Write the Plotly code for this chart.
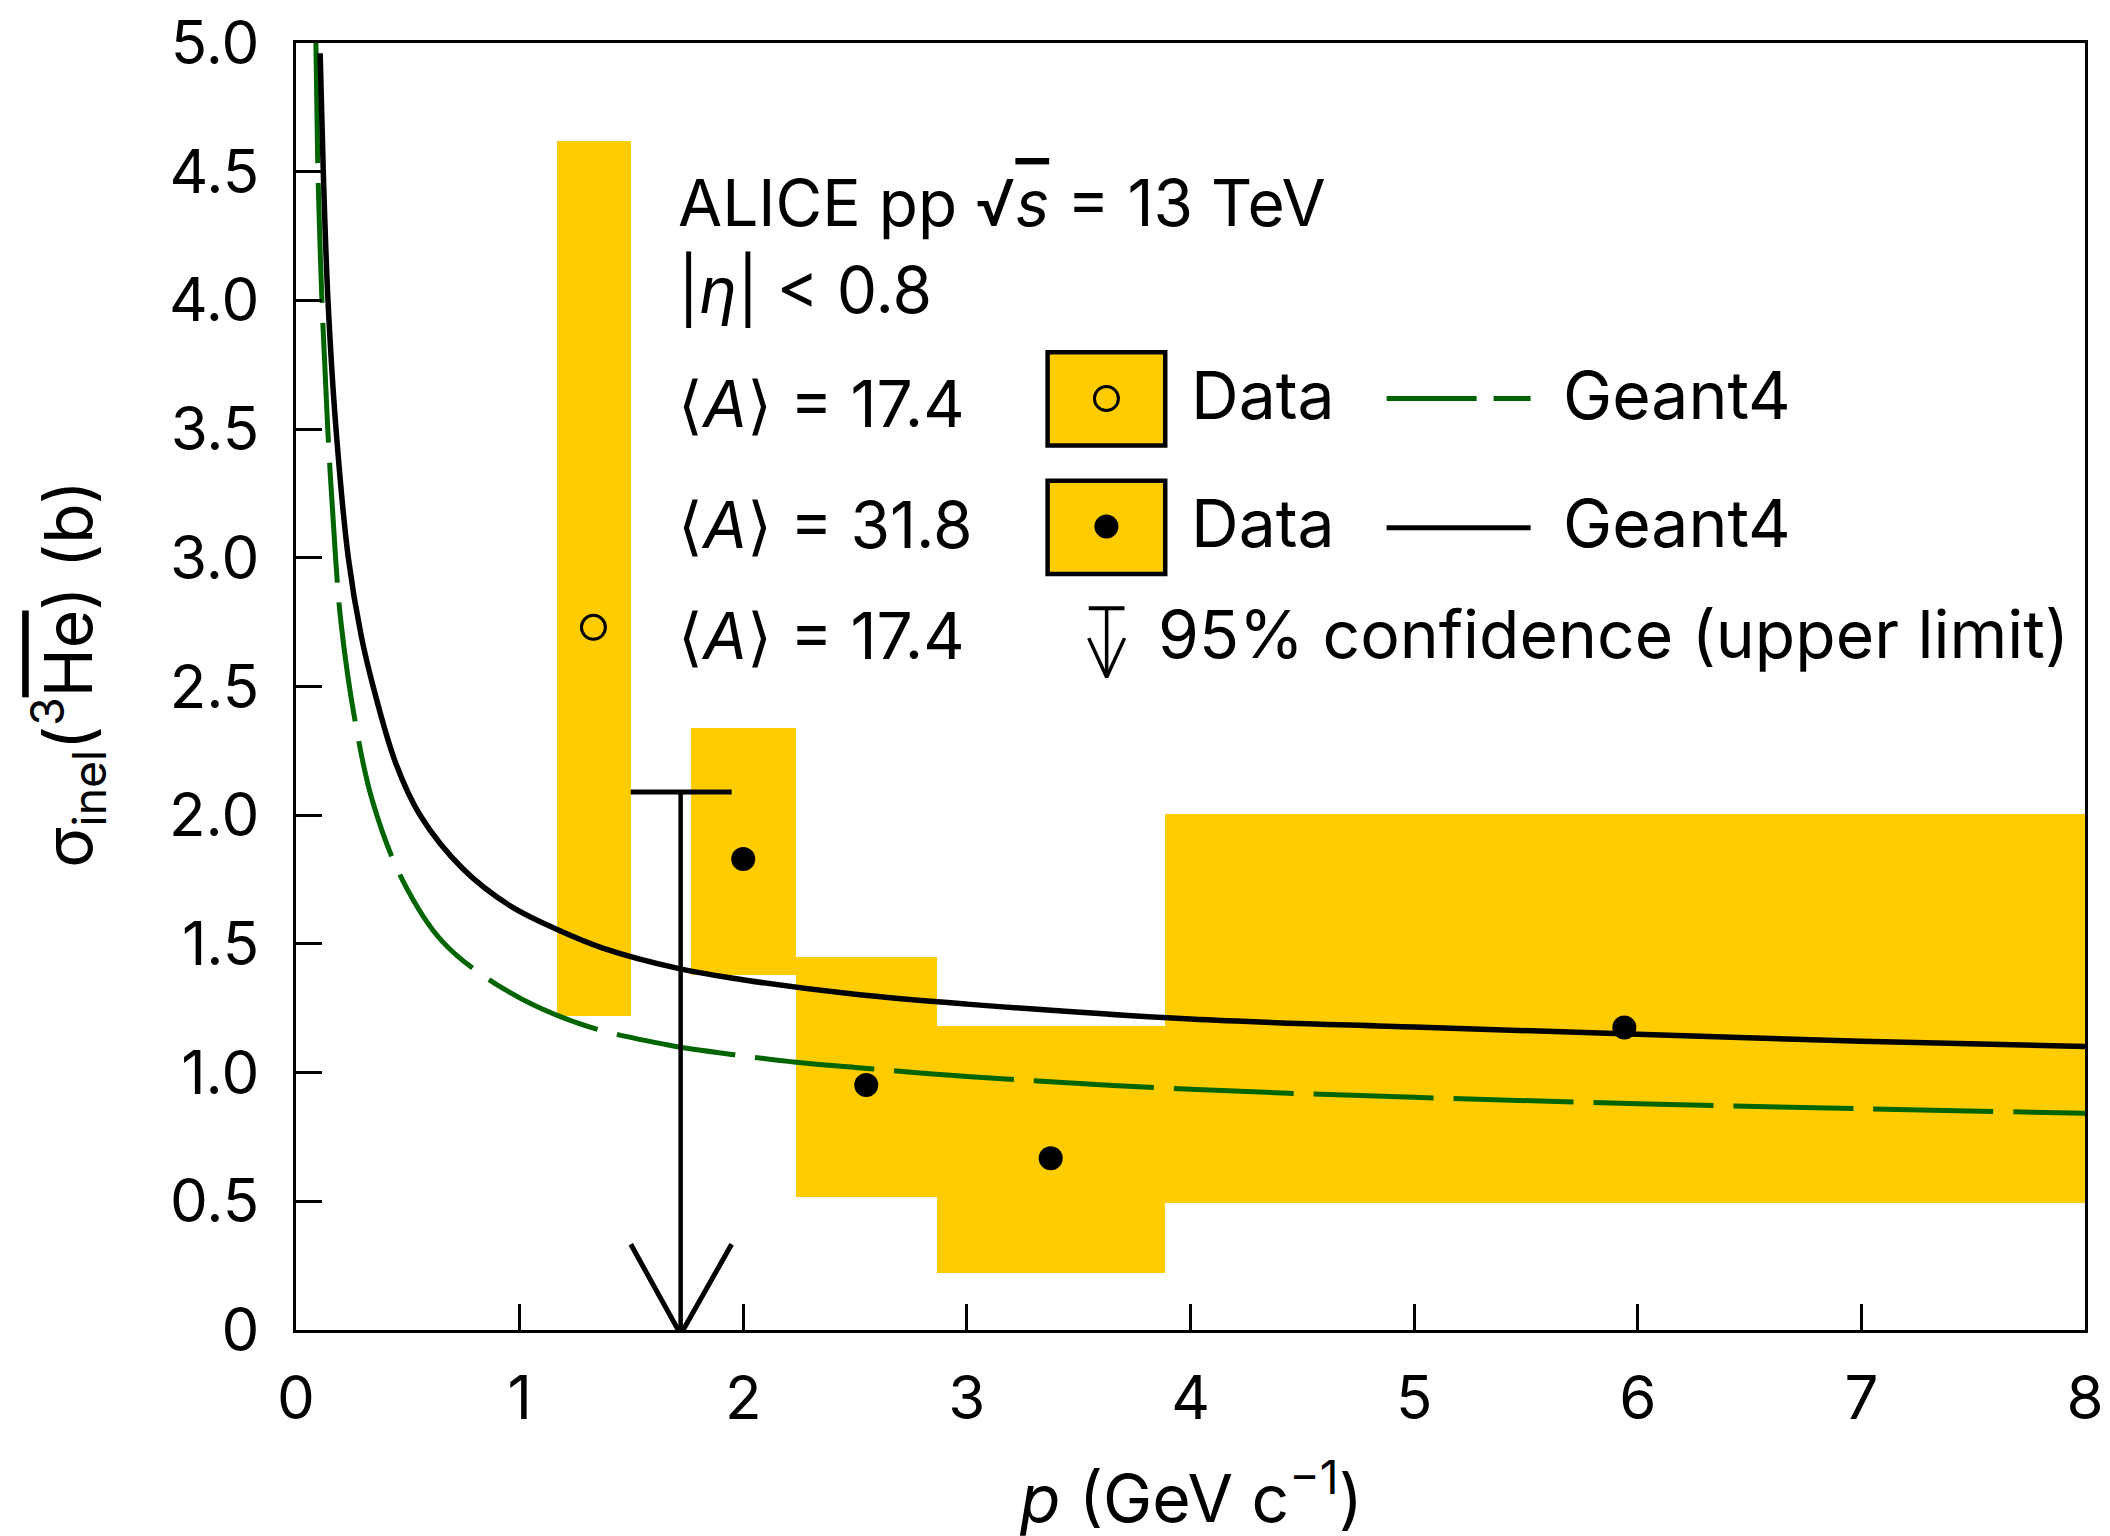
import plotly.graph_objects as go

# ---------------- data ----------------
# <A> = 17.4 measurement (open marker)
p_open = [1.33]
sigma_open = [2.73]
open_x_lo = [1.167]
open_x_hi = [1.497]
open_y_lo = [1.22]
open_y_hi = [4.62]

# <A> = 31.8 measurements (filled markers)
p_filled = [2.0, 2.55, 3.375, 5.94]
sigma_filled = [1.83, 0.952, 0.667, 1.175]
filled_x_lo = [1.765, 2.235, 2.868, 3.888]
filled_x_hi = [2.235, 2.868, 3.888, 8.0]
filled_y_lo = [1.38, 0.515, 0.22, 0.494]
filled_y_hi = [2.337, 1.45, 1.182, 2.004]

# <A> = 17.4 upper limit (95% CL)
ul_p = [1.72]
ul_sigma = [2.09]
ul_x_lo = [1.497]
ul_x_hi = [1.948]

# Geant4 curves
geant_174_p = [0.089, 0.098, 0.116, 0.142, 0.177, 0.201, 0.261, 0.343, 0.477, 0.656,
               0.939, 1.267, 1.670, 2.0, 2.236, 2.5, 3.0, 4.0, 5.0, 6.0, 7.0, 8.0]
geant_174_sigma = [5.0, 4.5, 4.0, 3.5, 3.0, 2.75, 2.382, 2.052, 1.747, 1.508,
                   1.320, 1.190, 1.106, 1.065, 1.040, 1.020, 0.985, 0.935, 0.904, 0.879, 0.860, 0.842]
geant_318_p = [0.108, 0.122, 0.143, 0.179, 0.234, 0.291, 0.345, 0.447, 0.555, 0.745,
               0.954, 1.163, 1.372, 1.714, 2.012, 2.5, 3.0, 4.0, 5.0, 6.0, 7.0, 8.0]
geant_318_sigma = [4.96, 4.5, 4.0, 3.5, 3.0, 2.70, 2.5, 2.2, 2.0, 1.793,
                   1.650, 1.558, 1.484, 1.404, 1.359, 1.304, 1.266, 1.208, 1.177, 1.149, 1.122, 1.101]

x_tick_vals = [0, 1, 2, 3, 4, 5, 6, 7, 8]
x_tick_text = ["0", "1", "2", "3", "4", "5", "6", "7", "8"]
y_tick_vals = [0, 0.5, 1.0, 1.5, 2.0, 2.5, 3.0, 3.5, 4.0, 4.5, 5.0]
y_tick_text = ["0", "0.5", "1.0", "1.5", "2.0", "2.5", "3.0", "3.5", "4.0", "4.5", "5.0"]

# ---------------- style ----------------
FONT = "Inter"
YELLOW = "#FFCC00"
GREEN = "#006400"
TICK_FS = 60
TEXT_FS = 64
LABEL_FS = 66

fig = go.Figure()

# uncertainty boxes
def add_boxes(xlo, xhi, ylo, yhi):
    fig.add_trace(go.Bar(
        x=[(a + b) / 2 for a, b in zip(xlo, xhi)],
        width=[b - a for a, b in zip(xlo, xhi)],
        base=ylo,
        y=[b - a for a, b in zip(ylo, yhi)],
        marker=dict(color=YELLOW, line=dict(width=0)),
        showlegend=False, hoverinfo="skip",
    ))

add_boxes(open_x_lo, open_x_hi, open_y_lo, open_y_hi)
add_boxes(filled_x_lo, filled_x_hi, filled_y_lo, filled_y_hi)

# Geant4 curves
fig.add_trace(go.Scatter(
    x=geant_174_p, y=geant_174_sigma, mode="lines",
    line=dict(color=GREEN, width=5, dash="120px,20px", shape="spline", smoothing=1.0),
    showlegend=False, hoverinfo="skip",
))
fig.add_trace(go.Scatter(
    x=geant_318_p, y=geant_318_sigma, mode="lines",
    line=dict(color="black", width=5.5, shape="spline", smoothing=1.0),
    showlegend=False, hoverinfo="skip",
))

# data points
fig.add_trace(go.Scatter(
    x=p_open, y=sigma_open, mode="markers",
    marker=dict(symbol="circle-open", size=24, color="black", line=dict(width=3)),
    showlegend=False,
))
fig.add_trace(go.Scatter(
    x=p_filled, y=sigma_filled, mode="markers",
    marker=dict(symbol="circle", size=24, color="black"),
    showlegend=False,
))

# upper limit arrow
ARROW_H = 0.35
for p, s, lo, hi in zip(ul_p, ul_sigma, ul_x_lo, ul_x_hi):
    fig.add_trace(go.Scatter(x=[lo, hi], y=[s, s], mode="lines",
                             line=dict(color="black", width=5),
                             showlegend=False, hoverinfo="skip", cliponaxis=False))
    fig.add_trace(go.Scatter(x=[p, p], y=[s, 0], mode="lines",
                             line=dict(color="black", width=4.5),
                             showlegend=False, hoverinfo="skip", cliponaxis=False))
    fig.add_trace(go.Scatter(x=[lo, p, hi], y=[ARROW_H - 0.017, -0.017, ARROW_H - 0.017],
                             mode="lines", line=dict(color="black", width=5),
                             showlegend=False, hoverinfo="skip", cliponaxis=False))

# ---------------- in-plot legend ----------------
shapes = []
for y0, y1 in [(3.436, 3.799), (2.937, 3.299)]:
    shapes.append(dict(type="rect", xref="x", yref="y", x0=3.361, x1=3.887, y0=y0, y1=y1,
                       fillcolor=YELLOW, line=dict(color="black", width=4.5), layer="below"))
fig.update_layout(shapes=shapes)

fig.add_trace(go.Scatter(x=[3.624], y=[3.619], mode="markers",
                         marker=dict(symbol="circle-open", size=24, color="black", line=dict(width=3)),
                         showlegend=False, hoverinfo="skip"))
fig.add_trace(go.Scatter(x=[3.624], y=[3.122], mode="markers",
                         marker=dict(symbol="circle", size=24, color="black"),
                         showlegend=False, hoverinfo="skip"))
fig.add_trace(go.Scatter(x=[4.877, 5.521], y=[3.619, 3.619], mode="lines",
                         line=dict(color=GREEN, width=5, dash="90px,17px"),
                         showlegend=False, hoverinfo="skip"))
fig.add_trace(go.Scatter(x=[4.877, 5.521], y=[3.117, 3.117], mode="lines",
                         line=dict(color="black", width=5),
                         showlegend=False, hoverinfo="skip"))
# legend upper-limit symbol
fig.add_trace(go.Scatter(x=[3.545, 3.705], y=[2.804, 2.804], mode="lines",
                         line=dict(color="black", width=4), showlegend=False, hoverinfo="skip"))
fig.add_trace(go.Scatter(x=[3.625, 3.625], y=[2.804, 2.536], mode="lines",
                         line=dict(color="black", width=3.5), showlegend=False, hoverinfo="skip"))
fig.add_trace(go.Scatter(x=[3.545, 3.625, 3.705], y=[2.688, 2.536, 2.688], mode="lines",
                         line=dict(color="black", width=3.5), showlegend=False, hoverinfo="skip"))

def txt(x, y, s, size=TEXT_FS):
    fig.add_annotation(x=x, y=y, xref="x", yref="y", text=s, showarrow=False,
                       xanchor="left", yanchor="middle",
                       font=dict(family=FONT, size=size, color="black"))

txt(1.70, 4.382, "ALICE pp √<span style='text-decoration:overline'><i>s</i></span> = 13 TeV")
txt(1.70, 4.043, "|<i>η</i>| < 0.8")
txt(1.70, 3.598, "⟨<i>A</i>⟩ = 17.4")
txt(1.70, 3.128, "⟨<i>A</i>⟩ = 31.8")
txt(1.70, 2.699, "⟨<i>A</i>⟩ = 17.4")
txt(3.995, 3.632, "Data", LABEL_FS)
txt(3.995, 3.135, "Data", LABEL_FS)
txt(5.655, 3.632, "Geant4", LABEL_FS)
txt(5.655, 3.135, "Geant4", LABEL_FS)
txt(3.845, 2.703, "95% confidence (upper limit)", LABEL_FS)

# axis titles
fig.add_annotation(x=0.5, y=-0.127, xref="paper", yref="paper", showarrow=False,
                   xanchor="center", yanchor="middle",
                   text="<i>p</i> (GeV c<sup>−1</sup>)",
                   font=dict(family=FONT, size=LABEL_FS, color="black"))
fig.add_annotation(x=-0.1274, y=0.51, xref="paper", yref="paper", showarrow=False,
                   xanchor="center", yanchor="middle", textangle=-90,
                   text="σ<sub>inel</sub>(<sup>3</sup><span style='text-decoration:overline'>He</span>) (b)",
                   font=dict(family=FONT, size=LABEL_FS, color="black"))

# ---------------- axes ----------------
axis_common = dict(
    showgrid=False, zeroline=False, showline=True, linecolor="black", linewidth=2.5,
    mirror=True, ticks="inside", ticklen=26, tickwidth=2.5, tickcolor="black",
    tickfont=dict(family=FONT, size=TICK_FS, color="black"), automargin=False,
    ticklabeloverflow="allow",
)
fig.update_xaxes(
    range=[0, 8], tickmode="array", tickvals=x_tick_vals, ticktext=x_tick_text,
    ticklabelstandoff=14,
    **axis_common,
)
fig.update_yaxes(
    range=[0, 5], tickmode="array", tickvals=y_tick_vals, ticktext=y_tick_text,
    ticklabelstandoff=22,
    **axis_common,
)

# page body has an 8px default margin: size the figure to fit the window exactly
fig.update_layout(
    width=2102, height=1528,
    margin=dict(l=288, r=25, t=35, b=206),
    plot_bgcolor="white", paper_bgcolor="white",
    barmode="overlay", bargap=0,
    showlegend=False,
    font=dict(family=FONT, color="black"),
)

fig.write_html("out.html")
